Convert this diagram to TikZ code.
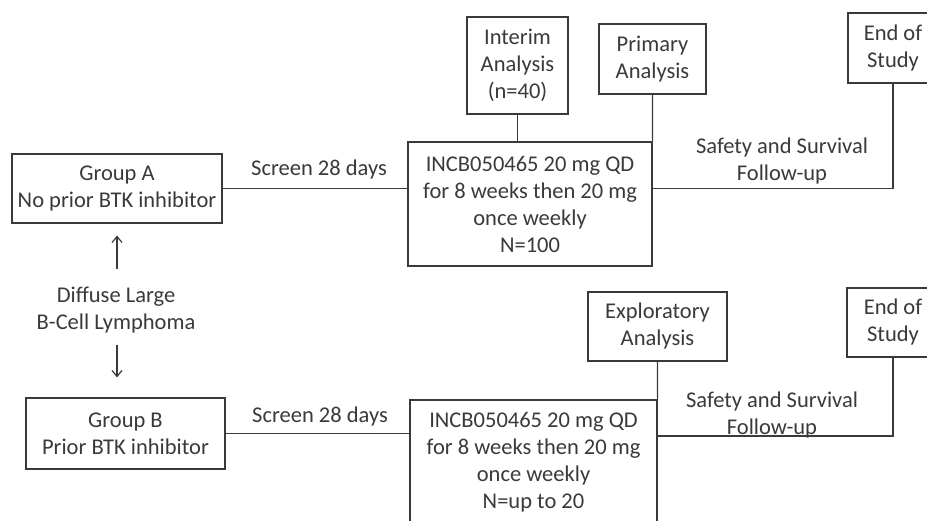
\documentclass[tikz,border=0pt]{standalone}
\usepackage{fontspec}
\setmainfont{Carlito}
\usetikzlibrary{arrows.meta,calc}
\definecolor{ink}{HTML}{3A3A3A}
\begin{document}
\begin{tikzpicture}[x=1pt,y=-1pt,
  every node/.style={font=\fontsize{22.5}{27}\selectfont, text=ink},
  box/.style={draw=ink, line width=1.2pt, inner sep=0pt, align=center},
  lbl/.style={inner sep=0pt, align=center},
  conn/.style={draw=ink, line width=1.2pt},
  arr/.style={conn, -{Straight Barb[length=6pt,width=10pt]}}]
\clip (0,0) rectangle (927,521);
\fill[white] (0,0) rectangle (927,521);
% boxes
\node[box, minimum width=210pt, minimum height=69pt] (gA) at (117,188.5) {Group  A\\No prior  BTK inhibitor};
\node[box, minimum width=199pt, minimum height=71pt] (gB) at (125.5,433.5) {Group  B\\Prior  BTK inhibitor};
\node[box, minimum width=244pt, minimum height=124pt] (incbA) at (530,204) {INCB050465 20 mg QD\\for 8 weeks then 20 mg\\once weekly\\N=100};
\node[box, minimum width=247pt, minimum height=125pt] (incbB) at (533.5,462.5) {INCB050465 20 mg QD\\for 8 weeks then 20 mg\\once weekly\\N=up to 20};
\node[box, minimum width=101pt, minimum height=97pt] (interim) at (517.5,65.5) {Interim\\Analysis\\(n=40)};
\node[box, minimum width=107pt, minimum height=70pt] (primary) at (652.5,59) {Primary\\Analysis};
\node[box, minimum width=90pt, minimum height=70pt] (endA) at (893,48) {End of\\Study};
\node[box, minimum width=139pt, minimum height=69pt] (explor) at (657.5,326.5) {Exploratory\\Analysis};
\node[box, minimum width=92pt, minimum height=69pt] (endB) at (893,322.5) {End of\\Study};
% labels
\node[lbl] (scrA) at (319,170) {Screen 28 days};
\node[lbl] (scrB) at (320,417) {Screen 28 days};
\node[lbl] (safA) at (782,161.5) {Safety and Survival\\Follow-up};
\node[lbl] (safB) at (772,415.5) {Safety and Survival\\Follow-up};
\node[lbl] (dlbcl) at (116,310) {Diffuse Large\\B-Cell Lymphoma};
% connectors
\draw[conn] (gA.east) -- (gA.east -| incbA.west);
\draw[conn] (gB.east) -- (gB.east -| incbB.west);
\draw[conn] (interim.south) -- (interim.south |- incbA.north);
\draw[conn] (primary.south) -- (incbA.north east);
\draw[conn] (explor.south) -- (incbB.north east);
\coordinate (fA) at (incbA.east |- gA.east);
\coordinate (fB) at ($(incbB.east |- gB.east)+(0,2.5)$);
\draw[conn] (fA) -| (endA.south);
\draw[conn] (fB) -| (endB.south);
\draw[arr, shorten <=18pt, shorten >=12pt] (dlbcl.north -| gA.south) -- (gA.south);
\draw[arr, shorten <=12pt, shorten >=20pt] (dlbcl.south -| gA.south) -- (gA.south |- gB.north);
\end{tikzpicture}
\end{document}
